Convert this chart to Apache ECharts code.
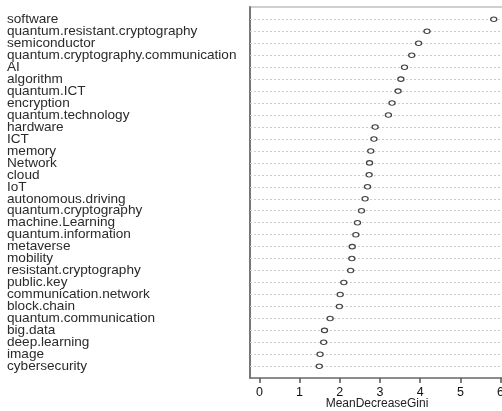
<!DOCTYPE html>
<html>
<head>
<meta charset="utf-8">
<script src="https://cdn.jsdelivr.net/npm/echarts@6/dist/echarts.min.js"></script>
<style>
  html, body { margin: 0; padding: 0; background: #fff; }
  #chart { width: 502px; height: 411px; }
</style>
</head>
<body>
<div id="chart"></div>
<script>
// variables, top to bottom
const variables = [
  "software", "quantum.resistant.cryptography", "semiconductor",
  "quantum.cryptography.communication", "AI", "algorithm", "quantum.ICT",
  "encryption", "quantum.technology", "hardware", "ICT", "memory", "Network",
  "cloud", "IoT", "autonomous.driving", "quantum.cryptography",
  "machine.Learning", "quantum.information", "metaverse", "mobility",
  "resistant.cryptography", "public.key", "communication.network",
  "block.chain", "quantum.communication", "big.data", "deep.learning",
  "image", "cybersecurity"
];
// MeanDecreaseGini, same order
const giniValues = [
  5.83, 4.17, 3.96, 3.79, 3.61, 3.52, 3.45, 3.30, 3.21, 2.88,
  2.85, 2.77, 2.74, 2.73, 2.69, 2.63, 2.54, 2.44, 2.40, 2.31,
  2.30, 2.27, 2.10, 2.01, 1.99, 1.76, 1.62, 1.60, 1.51, 1.49
];
const xTicks = [0, 1, 2, 3, 4, 5, 6];

const chart = echarts.init(document.getElementById("chart"));
const rows = variables.map((_, i) => i);

// plot box: rows 0..n-1 sit 12.3px below the top and 11.7px above the bottom
const boxTop = 7;
const boxBottom = 33;
const rowStep = (411 - boxTop - boxBottom) / (rows.length - 1 + 2.01);

chart.setOption({
  animation: false,
  grid: [
    {
      left: 250,
      right: -2,
      top: boxTop,
      bottom: boxBottom,
      outerBoundsMode: "none",
      show: true,
      borderColor: "#a0a0a0",
      borderWidth: 1,
    },
    {
      // label column, one band per variable centred on each row
      left: 250,
      right: -2,
      top: boxTop + 1.03 * rowStep - rowStep / 2,
      bottom: boxBottom + 0.98 * rowStep - rowStep / 2,
      outerBoundsMode: "none",
    },
  ],
  xAxis: [
    {
      type: "value",
      gridIndex: 0,
      min: -0.233,
      max: 6.085,
      name: "MeanDecreaseGini",
      nameLocation: "middle",
      nameGap: 20,
      nameMoveOverlap: false,
      nameTextStyle: { fontFamily: "Liberation Sans", fontSize: 12, color: "#222" },
      axisLine: { show: true, onZero: false, lineStyle: { color: "#777", width: 1.5 } },
      axisTick: { show: true, length: 5, customValues: xTicks, lineStyle: { color: "#555", width: 1.5 } },
      axisLabel: {
        customValues: xTicks,
        margin: 8,
        showMinLabel: true,
        showMaxLabel: true,
        fontFamily: "Liberation Sans",
        fontSize: 12.5,
        color: "#111",
      },
      splitLine: { show: false },
    },
    { type: "value", gridIndex: 1, show: false },
  ],
  yAxis: [
    {
      type: "value",
      gridIndex: 0,
      inverse: true,
      min: -1.03,
      max: rows.length - 1 + 0.98,
      axisLine: { show: true, onZero: false, lineStyle: { color: "#777", width: 2 } },
      axisTick: { show: false },
      axisLabel: { show: false },
      splitLine: { show: false },
    },
    {
      type: "category",
      gridIndex: 1,
      inverse: true,
      data: variables,
      axisLine: { show: false },
      axisTick: { show: false },
      splitLine: { show: false },
      axisLabel: {
        interval: 0,
        align: "left",
        margin: 243,
        fontFamily: "Liberation Sans",
        fontSize: 13.6,
        color: "#2a2a2a",
      },
    },
  ],
  series: [
    {
      type: "scatter",
      xAxisIndex: 0,
      yAxisIndex: 0,
      data: giniValues.map((v, i) => [v, i]),
      symbol: "circle",
      symbolSize: [6, 4.5],
      itemStyle: { color: "#fff", borderColor: "#444", borderWidth: 1.2, opacity: 1 },
      markLine: {
        silent: true,
        symbol: "none",
        label: { show: false },
        lineStyle: { color: "#cccccc", type: [2, 2], width: 1 },
        data: rows.map((i) => ({ yAxis: i })),
        z: 1,
      },
      z: 3,
    },
  ],
});
</script>
</body>
</html>
